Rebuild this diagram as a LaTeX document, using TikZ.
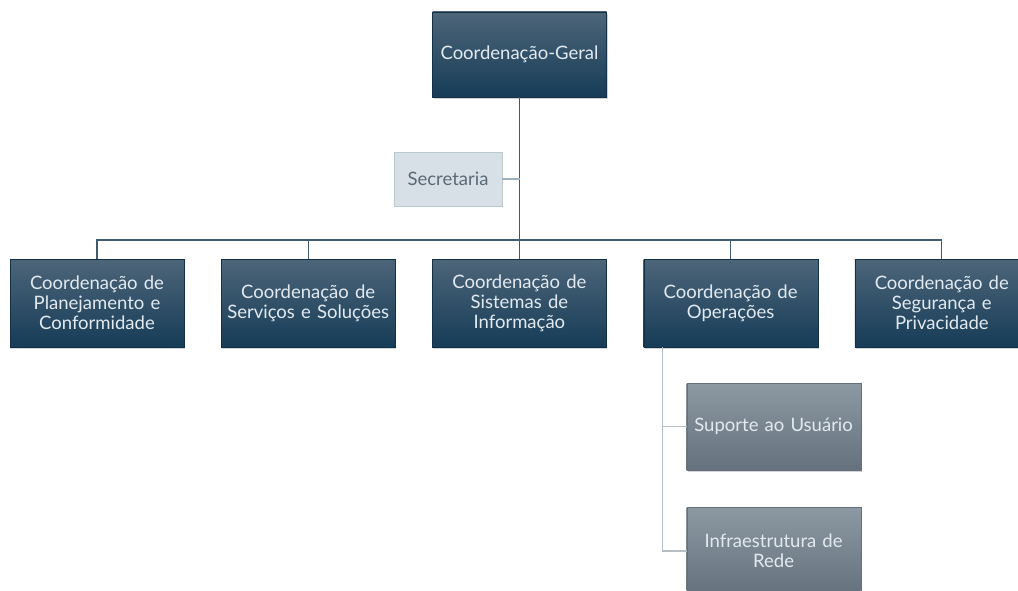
\documentclass[tikz,border=0pt]{standalone}
\usepackage{fontspec}
\setmainfont{Lato}
\usepackage{tikz}
\usetikzlibrary{positioning,shadows}

\definecolor{boxtop}{HTML}{4D6579}
\definecolor{boxbot}{HTML}{163C57}
\definecolor{boxtext}{HTML}{E2EAF0}
\definecolor{greytop}{HTML}{8C98A2}
\definecolor{greybot}{HTML}{65717C}
\definecolor{secfill}{HTML}{D6E0E6}
\definecolor{sectext}{HTML}{5B6977}
\definecolor{mainline}{HTML}{3F5B71}
\definecolor{secline}{HTML}{9DB1BE}
\definecolor{subline}{HTML}{B6BEC5}

\begin{document}
\begin{tikzpicture}[x=1pt,y=-1pt,
coordnode/.style={rectangle, top color=boxtop, bottom color=boxbot, draw=boxbot!80!black, very thin,
  text=boxtext, text width=168pt, inner sep=3pt, minimum height=88pt, align=center,
  font=\fontsize{18.5}{20}\selectfont,
  drop shadow={shadow xshift=1pt, shadow yshift=-2pt, opacity=0.35}},
subnode/.style={coordnode, top color=greytop, bottom color=greybot, draw=greybot, minimum height=87pt},
secnode/.style={rectangle, fill=secfill, draw=secline!70, thin, text=sectext,
  minimum width=108pt, minimum height=54pt, font=\fontsize{18.5}{20}\selectfont},
link/.style={draw=mainline, line width=1.3pt},
]
\useasboundingbox (0,0) rectangle (1018,591);
\clip (0,0) rectangle (1018,591);
%Nodes
\node[coordnode, minimum height=85pt](geral) at (519.5,54.5){Coordenação-Geral};
\node[secnode](sec) at (448,179){Secretaria};
\node[coordnode](plan) at (97,303){Coordenação de\\Planejamento e\\Conformidade};
\node[coordnode](serv)[right=37pt of plan]{Coordenação de\\Serviços e Soluções};
\node[coordnode](sist)[right=37pt of serv]{Coordenação de\\Sistemas de\\Informação};
\node[coordnode](oper)[right=37pt of sist]{Coordenação de\\Operações};
\node[coordnode](segu)[right=37pt of oper]{Coordenação de\\Segurança e\\Privacidade};
\node[subnode](supo)[below=36pt of oper, xshift=43pt]{Suporte ao Usuário};
\node[subnode](rede)[below=37pt of supo]{Infraestrutura de\\Rede};

\coordinate(bus) at (geral.south |- 0,240);
\coordinate(leg) at ([xshift=19pt]oper.south west);

\draw[link](geral.south) -- (bus);
\draw[draw=secline, line width=1.3pt](sec.east) -- (sec.east -| geral.south);
\draw[link](plan.north) |- (bus);
\draw[link](serv.north) |- (bus);
\draw[link](sist.north) |- (bus);
\draw[link](oper.north) |- (bus);
\draw[link](segu.north) |- (bus);
\draw[draw=subline, line width=1.3pt](leg) |- (supo.west);
\draw[draw=subline, line width=1.3pt](leg) |- (rede.west);
\end{tikzpicture}
\end{document}
